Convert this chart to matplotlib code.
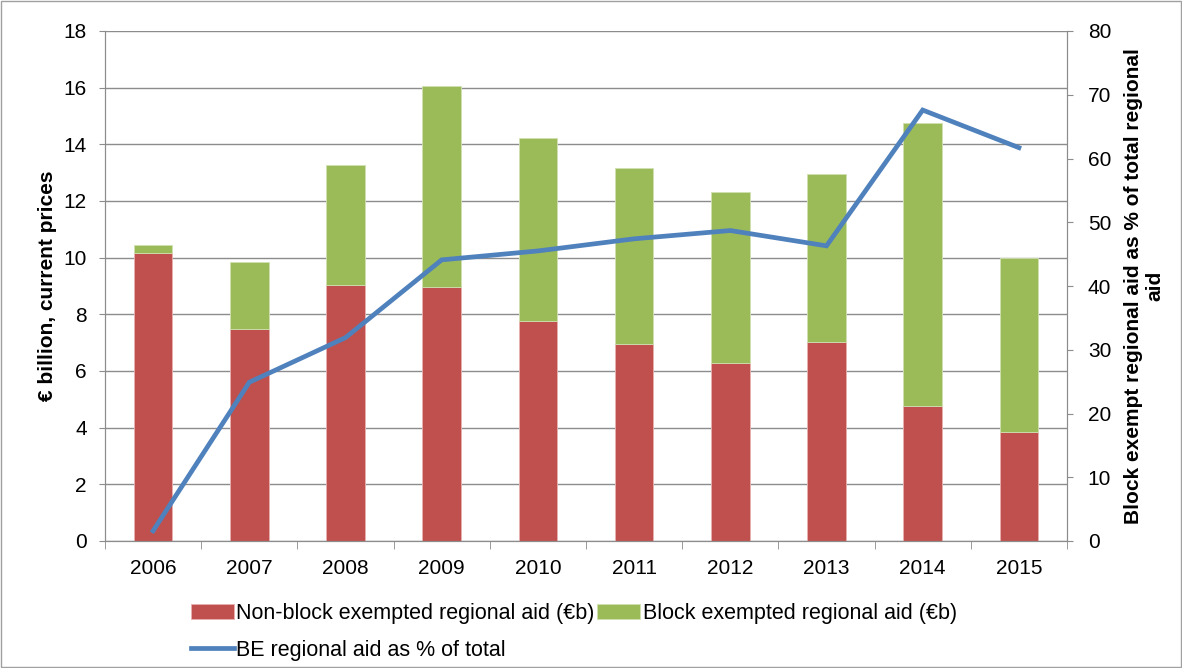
import matplotlib
matplotlib.use("Agg")
import matplotlib.pyplot as plt
import numpy as np
from matplotlib.patches import Rectangle

years = ["2006", "2007", "2008", "2009", "2010", "2011", "2012", "2013", "2014", "2015"]
non_block = [10.18, 7.47, 9.05, 8.95, 7.78, 6.94, 6.30, 7.01, 4.75, 3.84]
block = [0.25, 2.39, 4.23, 7.11, 6.45, 6.23, 6.03, 5.95, 10.01, 6.16]
be_share = [1.6, 24.9, 31.9, 44.1, 45.5, 47.4, 48.7, 46.3, 67.6, 61.7]

RED = "#c0504d"
GREEN = "#9bbb59"
BLUE = "#4f81bd"
GRID = "#8c8c8c"

plt.rcParams["font.family"] = ["Liberation Sans", "DejaVu Sans"]

fig = plt.figure(figsize=(11.82, 6.68), dpi=100)
fig.patches.append(Rectangle((0.001, 0.001), 0.998, 0.997, transform=fig.transFigure,
                             fill=False, edgecolor="#a0a0a0", linewidth=1.0))
ax = fig.add_axes([105 / 1182, 1 - 541 / 668, 962 / 1182, 510 / 668])

x = np.arange(len(years))
ax.bar(x, non_block, width=0.4, color=RED, edgecolor="#e8b0ae", linewidth=0.6,
       label="Non-block exempted regional aid (€b)", zorder=2)
ax.bar(x, block, bottom=non_block, width=0.4, color=GREEN, edgecolor="#d0e0b0", linewidth=0.6,
       label="Block exempted regional aid (€b)", zorder=2)

ax.set_xlim(-0.5, len(years) - 0.5)
ax.set_ylim(0, 18)
ax.set_yticks(range(0, 19, 2))
ax.yaxis.grid(True, color=GRID, linewidth=1.0, zorder=0)
ax.set_axisbelow(True)
ax.set_xticks(x)
ax.set_xticklabels(years)
ax.set_xticks(np.arange(-0.5, len(years), 1), minor=True)
ax.tick_params(axis="x", which="major", length=0, labelsize=15, pad=13)
ax.tick_params(axis="x", which="minor", length=6, color=GRID, direction="out")
ax.tick_params(axis="y", length=4, color=GRID, labelsize=15, pad=9)
ax.spines["top"].set_visible(False)
for s in ["left", "bottom", "right"]:
    ax.spines[s].set_color(GRID)
ax.set_ylabel("€ billion, current prices", fontsize=15, fontweight="bold", labelpad=5)

ax2 = ax.twinx()
ax2.plot(x, be_share, color=BLUE, linewidth=3.4, solid_joinstyle="miter",
         label="BE regional aid as % of total", zorder=3)
ax2.set_ylim(0, 80)
ax2.set_yticks(range(0, 81, 10))
ax2.tick_params(axis="y", length=4, color=GRID, labelsize=15, pad=11)
ax2.spines["top"].set_visible(False)
for s in ["left", "bottom", "right"]:
    ax2.spines[s].set_color(GRID)
ax2.set_ylabel("Block exempt regional aid as % of total regional\naid", fontsize=15,
               fontweight="bold", linespacing=1.15, labelpad=9)

h1, l1 = ax.get_legend_handles_labels()
h2, l2 = ax2.get_legend_handles_labels()
# column-major fill: red/blue in first column, green in second
handles = [h1[0], h2[0], h1[1]]
labels = [l1[0], l2[0], l1[1]]
fig.legend(handles, labels, loc="upper left", bbox_to_anchor=(182 / 1182, 1 - 594 / 668),
           ncol=2, frameon=False, fontsize=15.5, handlelength=2.0, handleheight=0.7,
           handletextpad=0.1, columnspacing=0.15, borderaxespad=0, labelspacing=0.75)

fig.savefig("out.png", dpi=100)
